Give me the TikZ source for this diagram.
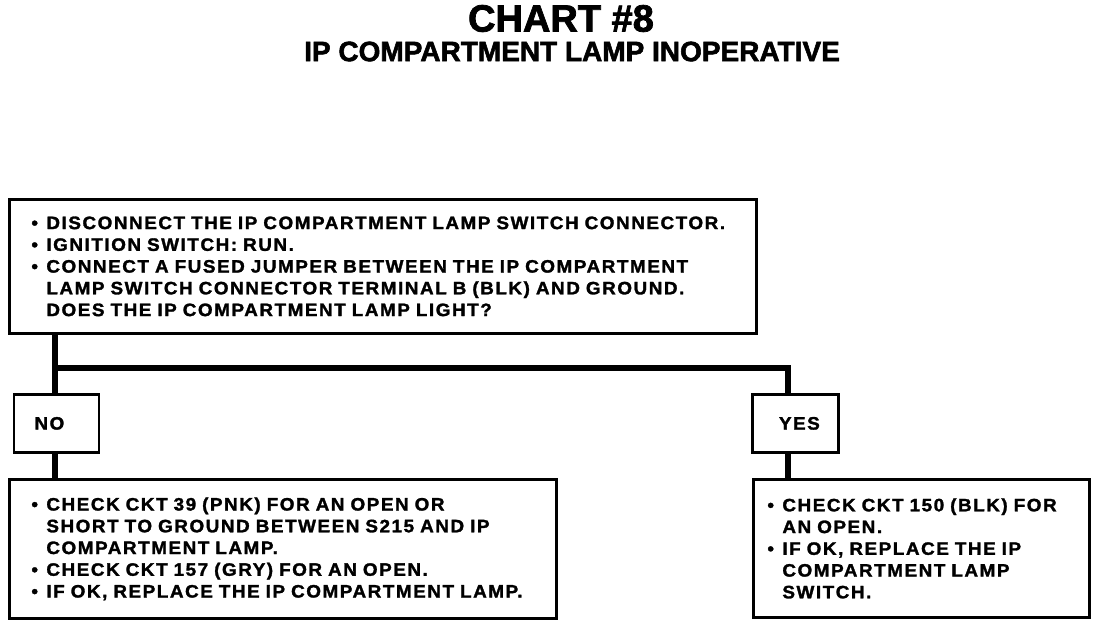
\documentclass[tikz,border=0pt]{standalone}
\usepackage{fontspec}
\setmainfont{Liberation Sans}[FakeBold=2]
\newfontfamily\chartfont{Liberation Sans}[LetterSpace=8.5, FakeStretch=1.05, FakeBold=1.6]
\newcommand{\bul}{\makebox[15pt][l]{\textbullet}}
\newcommand{\ind}{\hspace*{15pt}}

\begin{document}
\begin{tikzpicture}[x=1pt, y=-1pt,
                every node/.style={font=\chartfont\bfseries\fontsize{18}{21.75}\selectfont},
                box/.style={draw, line width=2.8pt, anchor=north west, align=left, inner ysep=0pt},
                answer/.style={draw, line width=2.8pt, anchor=north west, minimum height=58pt},
                wire/.style={line width=6.5pt}]

                \useasboundingbox (0,0) rectangle (1104,624);

                % headings
                \node[font=\bfseries\fontsize{38}{40}\selectfont] (chart) at (561,18.5) {CHART \#8};
                \node[font=\bfseries\fontsize{28}{30}\selectfont] (subject) at (572,51.5) {IP COMPARTMENT LAMP INOPERATIVE};

                % test step
                \node[box, text width=703pt, inner xsep=22pt, minimum height=134pt] (test) at (8,198)
                    {\bul DISCONNECT THE IP COMPARTMENT LAMP SWITCH CONNECTOR.\\
                     \bul IGNITION SWITCH: RUN.\\
                     \bul CONNECT A FUSED JUMPER BETWEEN THE IP COMPARTMENT\\
                     \ind LAMP SWITCH CONNECTOR TERMINAL B (BLK) AND GROUND.\\
                     \ind DOES THE IP COMPARTMENT LAMP LIGHT?};

                % answers
                \node[answer, minimum width=85pt] (no) at (12.5,393) {NO\hspace*{14pt}};
                \node[answer, minimum width=86pt] (yes) at (751,393) {\hspace*{8pt}YES};

                % actions
                \node[box, text width=503pt, inner xsep=22pt, minimum height=139pt] (noact) at (8,478)
                    {\bul CHECK CKT 39 (PNK) FOR AN OPEN OR\\
                     \ind SHORT TO GROUND BETWEEN S215 AND IP\\
                     \ind COMPARTMENT LAMP.\\
                     \bul CHECK CKT 157 (GRY) FOR AN OPEN.\\
                     \bul IF OK, REPLACE THE IP COMPARTMENT LAMP.};
                \node[box, text width=308pt, inner xsep=14pt, minimum height=138pt] (yesact) at (752,478)
                    {\bul CHECK CKT 150 (BLK) FOR\\
                     \ind AN OPEN.\\
                     \bul IF OK, REPLACE THE IP\\
                     \ind COMPARTMENT LAMP\\
                     \ind SWITCH.};

                \coordinate (fork) at (55,368);
                \coordinate (yesdrop) at (788,368);

                \draw[wire] (test.south -| fork) -- (no.north -| fork); % down to NO
                \draw[wire] (fork) -- (yesdrop) -- (yesdrop |- yes.north); % over to YES
                \draw[wire] (no.south -| fork) -- (noact.north -| fork);
                \draw[wire] (yes.south -| yesdrop) -- (yesact.north -| yesdrop);

\end{tikzpicture}
\end{document}
